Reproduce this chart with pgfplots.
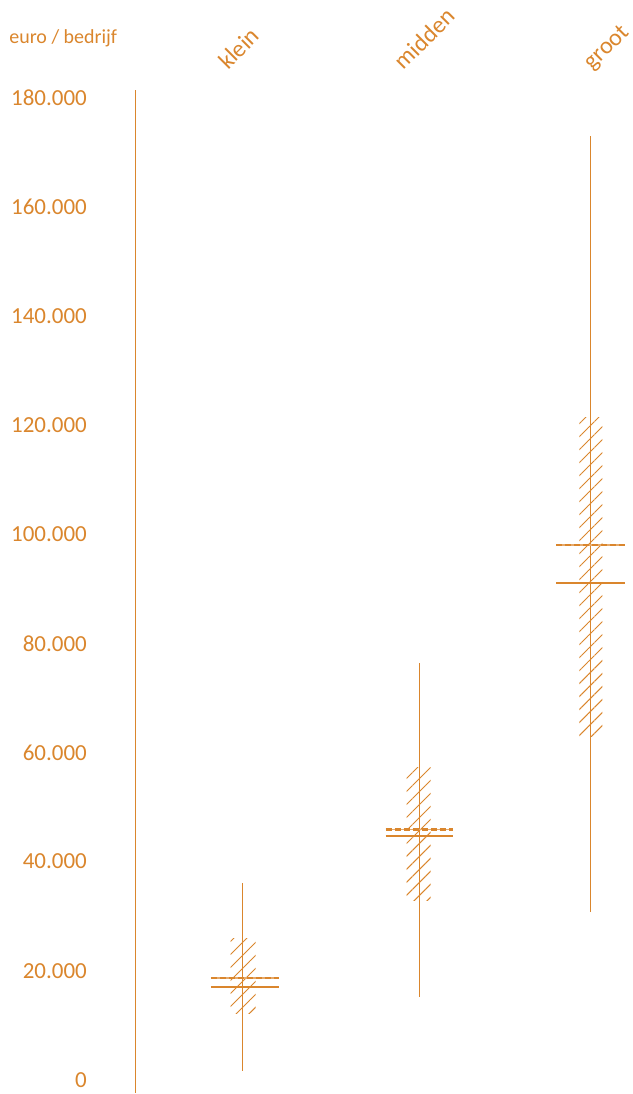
\documentclass[border=0pt]{standalone}
\usepackage{pgfplots}
\pgfplotsset{compat=1.18}
\usepackage{fontspec}
\setmainfont{Carlito}
\usetikzlibrary{patterns.meta}
\definecolor{oranje}{RGB}{218,134,45}
% px -> y data: (1081-py)/0.005461
\begin{document}
\begin{tikzpicture}
\begin{axis}[
  scale only axis,
  width=248pt, height=502pt,
  xmin=136, xmax=632,
  ymin=-2380, ymax=181470,
  clip=false,
  axis x line=none,
  axis y line*=left,
  y axis line style={oranje, line width=0.65pt},
  ytick={0,20000,...,180000},
  scaled y ticks=false,
  major tick length=0pt,
  yticklabel style={font=\fontsize{11.5}{13}\selectfont, text=oranje, anchor=east, xshift=-21pt,
    /pgf/number format/.cd, fixed, precision=0, 1000 sep={.}, assume math mode=true},
]
% whiskers
\addplot[oranje, line width=0.6pt] coordinates {(243,1650) (243,36070)};
\addplot[oranje, line width=0.6pt] coordinates {(420,15200) (420,76360)};
\addplot[oranje, line width=0.6pt] coordinates {(591,30760) (591,173050)};
% hatched boxes
\addplot[draw=none, pattern={Lines[angle=45, distance=4.6pt, line width=0.5pt]}, pattern color=oranje]
  coordinates {(231,12090) (256,12090) (256,25820) (231,25820)} -- cycle;
\addplot[draw=none, pattern={Lines[angle=45, distance=4.6pt, line width=0.5pt]}, pattern color=oranje]
  coordinates {(407,32780) (431,32780) (431,57320) (407,57320)} -- cycle;
\addplot[draw=none, pattern={Lines[angle=45, distance=4.6pt, line width=0.5pt]}, pattern color=oranje]
  coordinates {(580,62990) (603,62990) (603,121400) (580,121400)} -- cycle;
% medians
\addplot[oranje, line width=1pt] coordinates {(211,17030) (279,17030)};
\addplot[oranje, line width=1pt] coordinates {(386,44750) (453,44750)};
\addplot[oranje, line width=1pt] coordinates {(557,91010) (626,91010)};
% means (dashed)
\addplot[oranje!70, line width=0.6pt] coordinates {(211,18680) (279,18680)};
\addplot[oranje, line width=1.4pt, dash pattern=on 3pt off 1.5pt] coordinates {(211,18680) (279,18680)};
\addplot[oranje!70, line width=0.6pt] coordinates {(386,45840) (453,45840)};
\addplot[oranje, line width=1.4pt, dash pattern=on 3pt off 1.5pt] coordinates {(386,45840) (453,45840)};
\addplot[oranje!70, line width=0.6pt] coordinates {(557,98040) (626,98040)};
\addplot[oranje, line width=1.4pt, dash pattern=on 3pt off 1.5pt] coordinates {(557,98040) (626,98040)};
% labels
\node[anchor=base west, inner sep=0pt, text=oranje, font=\fontsize{10}{12}\selectfont] at (axis cs:9,189890) {euro / bedrijf};
\node[anchor=base west, inner sep=0pt, rotate=45, text=oranje, font=\fontsize{12}{14}\selectfont] at (axis cs:228,184950) {klein};
\node[anchor=base west, inner sep=0pt, rotate=45, text=oranje, font=\fontsize{12}{14}\selectfont] at (axis cs:404,184950) {midden};
\node[anchor=base west, inner sep=0pt, rotate=45, text=oranje, font=\fontsize{12}{14}\selectfont] at (axis cs:593,184950) {groot};
\path (axis cs:0,197949) rectangle (axis cs:632,-2380);
\end{axis}
\end{tikzpicture}
\end{document}
